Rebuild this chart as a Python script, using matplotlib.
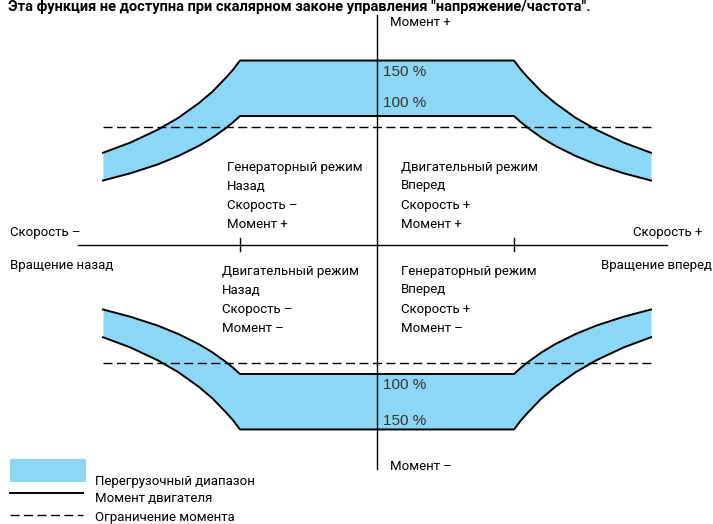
import matplotlib
matplotlib.use("Agg")
import matplotlib.pyplot as plt
import numpy as np
from matplotlib.patches import Rectangle
from matplotlib.lines import Line2D

# ---- data (speed in units of nominal speed, torque in % as drawn) ----
speed_fw = [1.0, 1.05, 1.1, 1.2, 1.3, 1.45, 1.6, 1.8, 2.0]
torque_overload = [143, 136, 130, 119, 110, 98.6, 89.4, 79.4, 71.5]   # "150 %" curve
torque_nominal = [100, 95.2, 90.9, 83.3, 76.9, 69.0, 62.5, 55.6, 50.0]  # "100 %" curve
torque_limit = 91.5
speed_max = 2.0
axis_x = [-2.18, 2.12]
axis_y = [-174, 178]

FONT = ['Roboto', 'DejaVu Sans']
FONT_REG = ['Liberation Sans', 'DejaVu Sans']
BLUE = '#8dd7f6'
FS = 9.5

W, H = 713, 524
fig = plt.figure(figsize=(W / 100, H / 100), dpi=100)
ax = fig.add_axes([0, 0, 1, 1])
# pixel mapping: x_px = 377 + 137*s ; y_px = 245 - 1.29*T
ax.set_xlim(-377 / 137, (W - 377) / 137)
ax.set_ylim(-(H - 245) / 1.29, 245 / 1.29)
ax.axis('off')

s = np.array(speed_fw)
full_s = np.concatenate([-s[::-1], s])
to = np.array(torque_overload)
tn = np.array(torque_nominal)
full_to = np.concatenate([to[::-1], to])
full_tn = np.concatenate([tn[::-1], tn])

for sign in (1, -1):
    ax.fill_between(full_s, sign * full_tn, sign * full_to, color=BLUE, lw=0, zorder=1)
    ax.plot(full_s, sign * full_to, color='black', lw=1.4, zorder=3)
    ax.plot(full_s, sign * full_tn, color='black', lw=1.4, zorder=3)
    ax.plot([-speed_max, speed_max], [sign * torque_limit] * 2, color='black', lw=1.0,
            linestyle=(0, (6.5, 3.2)), zorder=3)

# axes
ax.plot(axis_x, [0, 0], color='black', lw=1.0, zorder=2)
ax.plot([0, 0], axis_y, color='black', lw=1.0, zorder=4)
for xt in (-1, 1):
    ax.plot([xt, xt], [-5, 5.5], color='black', lw=1.0, zorder=2)


def ptext(x, y, t, size=FS, family=FONT, ha='left', va='center', **kw):
    fig.text(x / W, 1 - y / H, t, fontsize=size, family=family, ha=ha, va=va, **kw)


ptext(8, 0, 'Эта функция не доступна при скалярном законе управления "напряжение/частота".',
      size=10.5, weight='bold', va='top')
ptext(390, 23, 'Момент +')
ptext(390, 466, 'Момент –')
ptext(383, 72, '150 %', size=11, family=FONT_REG, color='#333333')
ptext(383, 103, '100 %', size=11, family=FONT_REG, color='#333333')
ptext(383, 385, '100 %', size=11, family=FONT_REG, color='#333333')
ptext(383, 421, '150 %', size=11, family=FONT_REG, color='#333333')

ptext(10, 233, 'Скорость –')
ptext(10, 266, 'Вращение назад')
ptext(702, 233, 'Скорость +', ha='right')
ptext(712, 266, 'Вращение вперед', ha='right')

blocks = [
    (227, 167, ['Генераторный режим', 'Назад', 'Скорость –', 'Момент +']),
    (401, 167, ['Двигательный режим', 'Вперед', 'Скорость +', 'Момент +']),
    (222, 271, ['Двигательный режим', 'Назад', 'Скорость –', 'Момент –']),
    (401, 271, ['Генераторный режим', 'Вперед', 'Скорость +', 'Момент –']),
]
for bx, by, lines in blocks:
    for i, t in enumerate(lines):
        ptext(bx, by + i * 19, t)

# legend
fig.add_artist(Rectangle((10 / W, 1 - 482 / H), 76 / W, 23 / H, transform=fig.transFigure,
                         facecolor=BLUE, edgecolor='none'))
fig.add_artist(Line2D([10 / W, 83 / W], [1 - 493 / H] * 2, transform=fig.transFigure,
                      color='black', lw=1.4))
fig.add_artist(Line2D([10 / W, 83 / W], [1 - 515 / H] * 2, transform=fig.transFigure,
                      color='black', lw=1.0, linestyle=(0, (6.5, 3.2))))
ptext(95, 482, 'Перегрузочный диапазон')
ptext(95, 499, 'Момент двигателя')
ptext(95, 517, 'Ограничение момента')

fig.savefig('out.png', dpi=100)
